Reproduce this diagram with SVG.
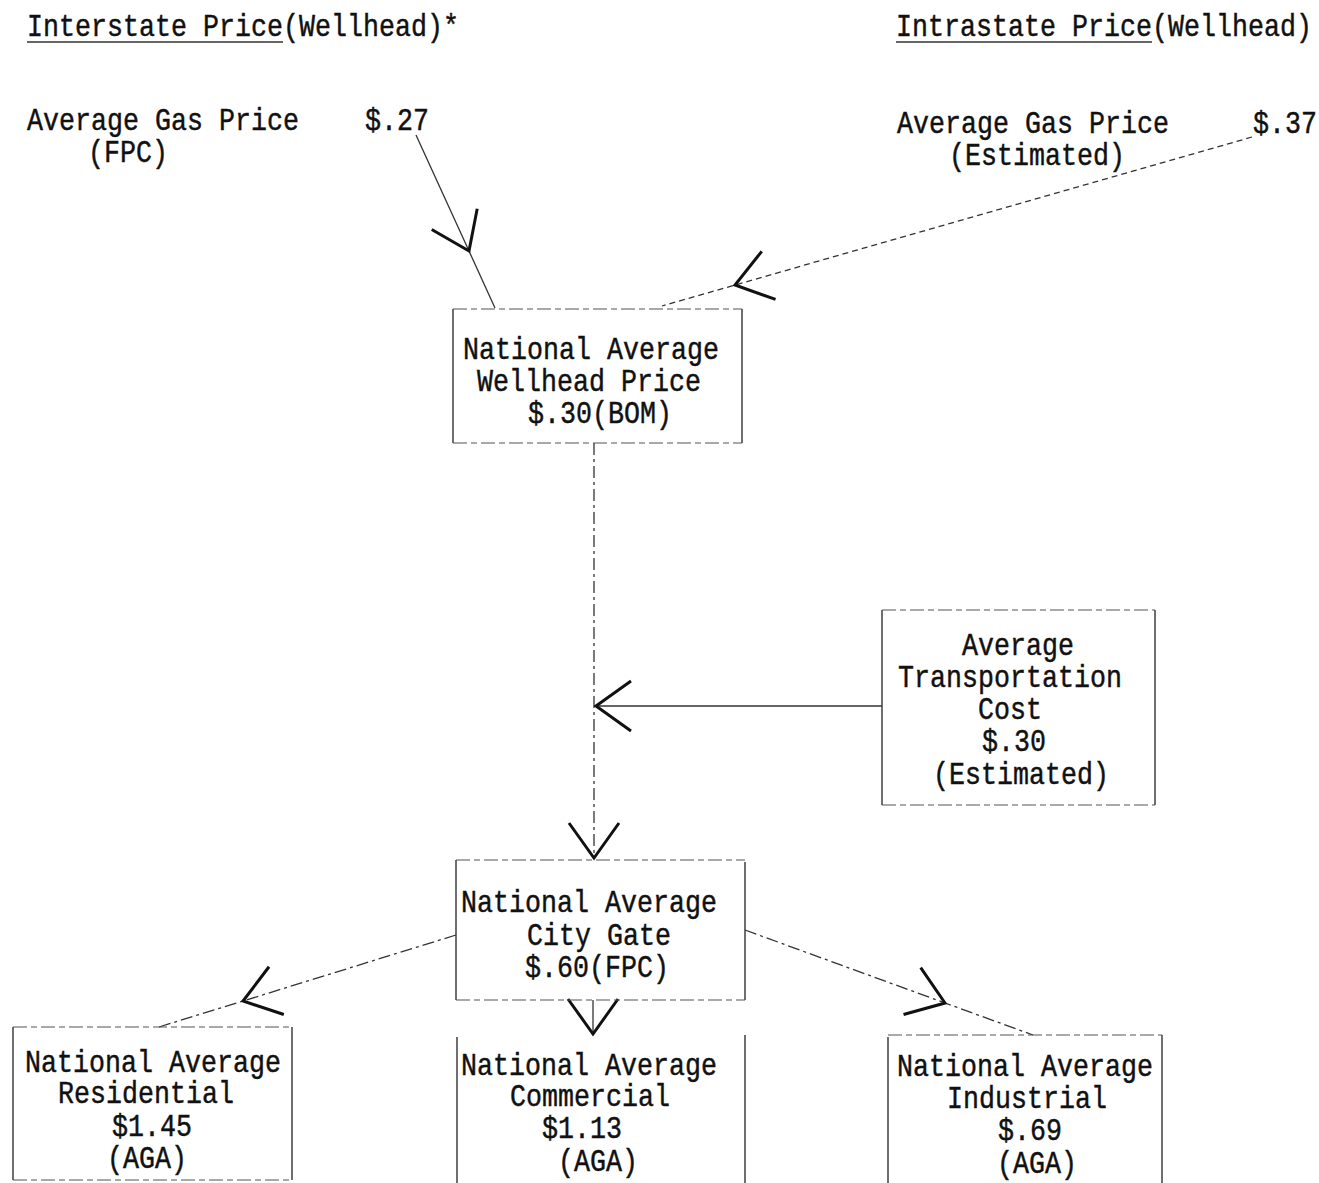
<svg xmlns="http://www.w3.org/2000/svg" width="1319" height="1183" viewBox="0 0 1319 1183">
<style>
text{font-family:"Liberation Mono","Courier New",monospace;font-size:31px;fill:#111;stroke:#111;stroke-width:0.45px}
.side{fill:none;stroke:#333;stroke-width:1.4}
.edge{fill:none;stroke:#555;stroke-width:1.2;stroke-dasharray:14 4 6 4}
.ul{stroke:#333;stroke-width:1.4}
.con{fill:none;stroke:#333;stroke-width:1.3}
.dash{stroke-dasharray:12 4 3 4}
.dot{stroke-dasharray:6 4}
</style>
<defs>
<marker id="vee" markerUnits="userSpaceOnUse" markerWidth="90" markerHeight="90" viewBox="-45 -45 90 90" refX="0" refY="0" orient="auto" overflow="visible">
<path d="M -35 -25 L 0 0 L -35 25" fill="none" stroke="#111" stroke-width="3"/>
</marker>
</defs>
<rect width="1319" height="1183" fill="#fff"/>

<g id="headers">
<text transform="matrix(.86 0 0 1 27 36)">Interstate Price(Wellhead)*</text>
<line class="ul" x1="27" y1="42" x2="283" y2="42"/>
<text transform="matrix(.86 0 0 1 896 36)">Intrastate Price(Wellhead)</text>
<line class="ul" x1="896" y1="42" x2="1152" y2="42"/>
</g>

<g id="interstate-price">
<text transform="matrix(.86 0 0 1 27 130)">Average Gas Price</text>
<text transform="matrix(.86 0 0 1 365 130)">$.27</text>
<text transform="matrix(.86 0 0 1 88 162)">(FPC)</text>
</g>

<g id="intrastate-price">
<text transform="matrix(.86 0 0 1 897 133)">Average Gas Price</text>
<text transform="matrix(.86 0 0 1 1253 133)">$.37</text>
<text transform="matrix(.86 0 0 1 949 165)">(Estimated)</text>
</g>

<g id="connectors">
<polyline class="con" points="416,135 469,251 495,308" marker-mid="url(#vee)"/>
<polyline class="con dot" points="1252,137 735,285 662,306" marker-mid="url(#vee)"/>
<line class="con dash" x1="594" y1="443" x2="594" y2="858" marker-end="url(#vee)"/>
<line class="con" x1="882" y1="706" x2="596" y2="706" marker-end="url(#vee)"/>
<polyline class="con dash" points="456,935 243,1001 159,1027" marker-mid="url(#vee)"/>
<polyline class="con dash" points="745,930 945,1003 1033,1035" marker-mid="url(#vee)"/>
<line class="con" x1="593" y1="1000" x2="593" y2="1034" marker-end="url(#vee)"/>
</g>

<g id="wellhead">
<path class="side" d="M453 309 V443 M742 309 V443"/>
<path class="edge" d="M453 309 H742 M453 443 H742"/>
<text transform="matrix(.86 0 0 1 463 359)">National Average</text>
<text transform="matrix(.86 0 0 1 477 391)">Wellhead Price</text>
<text transform="matrix(.86 0 0 1 528 423)">$.30(BOM)</text>
</g>

<g id="transportation">
<path class="side" d="M882 610 V805 M1155 610 V805"/>
<path class="edge" d="M882 610 H1155 M882 805 H1155"/>
<text transform="matrix(.86 0 0 1 962 655)">Average</text>
<text transform="matrix(.86 0 0 1 898 687)">Transportation</text>
<text transform="matrix(.86 0 0 1 978 719)">Cost</text>
<text transform="matrix(.86 0 0 1 982 751)">$.30</text>
<text transform="matrix(.86 0 0 1 933 784)">(Estimated)</text>
</g>

<g id="city-gate">
<path class="side" d="M456 860 V1000 M745 862 V1000"/>
<path class="edge" d="M456 860 H745 M456 1000 H745"/>
<text transform="matrix(.86 0 0 1 461 912)">National Average</text>
<text transform="matrix(.86 0 0 1 527 945)">City Gate</text>
<text transform="matrix(.86 0 0 1 525 977)">$.60(FPC)</text>
</g>

<g id="residential">
<path class="side" d="M13 1027 V1180 M292 1027 V1180"/>
<path class="edge" d="M13 1027 H292 M13 1180 H292"/>
<text transform="matrix(.86 0 0 1 25 1072)">National Average</text>
<text transform="matrix(.86 0 0 1 58 1103)">Residential</text>
<text transform="matrix(.86 0 0 1 112 1136)">$1.45</text>
<text transform="matrix(.86 0 0 1 107 1168)">(AGA)</text>
</g>

<g id="commercial">
<path class="side" d="M457 1037 V1183 M745 1035 V1183"/>
<text transform="matrix(.86 0 0 1 461 1075)">National Average</text>
<text transform="matrix(.86 0 0 1 510 1106)">Commercial</text>
<text transform="matrix(.86 0 0 1 542 1138)">$1.13</text>
<text transform="matrix(.86 0 0 1 558 1171)">(AGA)</text>
</g>

<g id="industrial">
<path class="side" d="M888 1037 V1183 M1162 1035 V1183"/>
<path class="edge" d="M888 1035 H1162"/>
<text transform="matrix(.86 0 0 1 897 1076)">National Average</text>
<text transform="matrix(.86 0 0 1 947 1108)">Industrial</text>
<text transform="matrix(.86 0 0 1 998 1140)">$.69</text>
<text transform="matrix(.86 0 0 1 997 1173)">(AGA)</text>
</g>
</svg>
